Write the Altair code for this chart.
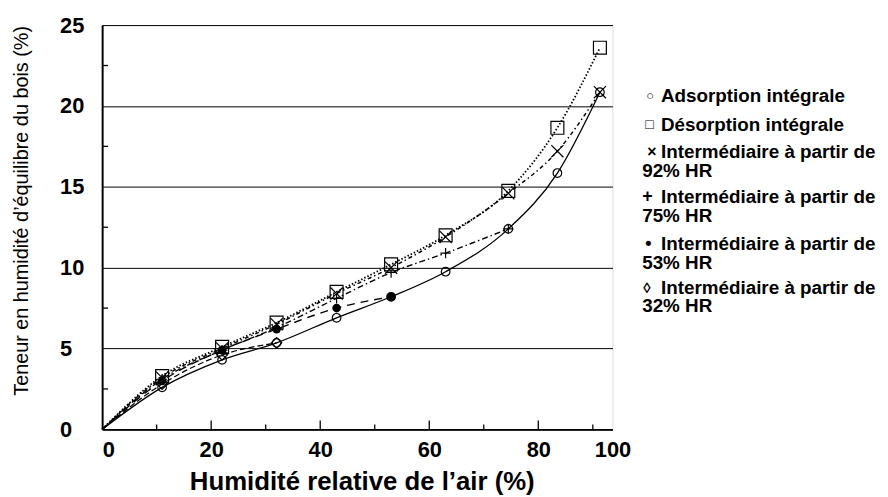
import altair as alt
import pandas as pd

# ---------------- data ----------------
rh = [11, 22, 32, 43, 53, 63, 74.5, 83.5, 91.3]
adsorption = [2.6, 4.3, 5.35, 6.9, 8.2, 9.75, 12.4, 15.85, 20.85]
desorption = [3.3, 5.1, 6.6, 8.5, 10.2, 12.0, 14.75, 18.65, 23.6]
inter92 = [3.2, 5.0, 6.5, 8.4, 10.0, 11.9, 14.6, 17.2, 20.85]
rh75 = [11, 22, 32, 43, 53, 63, 74.5]
inter75 = [3.1, 4.9, 6.3, 8.1, 9.7, 10.9, 12.4]
rh53 = [11, 22, 32, 43, 53]
inter53 = [3.0, 4.9, 6.2, 7.5, 8.2]
rh32 = [11, 22, 32]
inter32 = [2.8, 4.6, 5.35]
origin_x = [0]
origin_y = [0]

x_label_values = [0, 20, 40, 60, 80]
x_end = 93.6  # right edge of the frame, labelled "100"
x_major_ticks = [20, 40, 60, 80]
x_minor_ticks = [10, 30, 50, 70, 90]
y_values = [0, 5, 10, 15, 20, 25]
y_minor_ticks = [2.5, 7.5, 12.5, 17.5, 22.5]

legend_symbols = ["○", "□", "×", "+", "•", "◊"]
legend_texts = [
    ["Adsorption intégrale"],
    ["Désorption intégrale"],
    ["Intermédiaire à partir de", "92% HR"],
    ["Intermédiaire à partir de", "75% HR"],
    ["Intermédiaire à partir de", "53% HR"],
    ["Intermédiaire à partir de", "32% HR"],
]

# ---------------- layout / style ----------------
W, H = 515, 408
FONT = "Liberation Sans"
legend_sym_x = [549, 548, 550, 545, 548, 546]
legend_sym_size = [13, 14, 16, 18, 18, 15]
legend_text_x = 564
legend_second_x = 545
legend_first_line_y = [72, 101, 128, 174, 221, 265]
legend_line_gap = 19

xscale = alt.Scale(domain=[0, x_end], nice=False, zero=True)
yscale = alt.Scale(domain=[0, 25], nice=False, zero=True)

x_axis = alt.Axis(
    values=x_label_values + [x_end],
    labelExpr="datum.value > 90 ? '100' : datum.label",
    labelFlush=False,
    labelAlign={"condition": {"test": "datum.value == 0", "value": "left"}, "value": "center"},
    ticks=False, tickSize=0, grid=False,
    domainColor="black", domainWidth=2,
    labelFont=FONT, labelFontSize=22, labelFontWeight="bold", labelColor="black",
    labelPadding=10,
    title="Humidité relative de l’air (%)",
    titleFont=FONT, titleFontSize=26, titleFontWeight="bold", titleColor="black",
    titleX=262, titleY=61, titleAlign="center", titleBaseline="alphabetic",
)
y_axis = alt.Axis(
    values=y_values,
    grid=True, gridColor="black", gridWidth=1, gridOpacity=1,
    ticks=False, tickSize=0,
    domainColor="black", domainWidth=2,
    labelFont=FONT, labelFontSize=22, labelFontWeight="bold", labelColor="black",
    labelAlign="left", labelBaseline="middle", labelPadding=43,
    title="Teneur en humidité d’équilibre du bois (%)",
    titleFont=FONT, titleFontSize=20, titleFontWeight="normal", titleColor="black",
    titleAngle=270, titleX=-81, titleY=187, titleAlign="center", titleBaseline="middle",
)


def X():
    return alt.X("x:Q", scale=xscale, axis=x_axis)


def Y():
    return alt.Y("y:Q", scale=yscale, axis=y_axis)


def df(xv, yv):
    return pd.DataFrame({"x": xv, "y": yv})


def line(xv, yv, dash, width=1.3):
    kw = dict(color="black", strokeWidth=width, interpolate="monotone")
    if dash:
        kw["strokeDash"] = dash
    return alt.Chart(df(origin_x + xv, origin_y + yv)).mark_line(**kw).encode(x=X(), y=Y())


def points(xv, yv, shape, size, filled=False, sw=1.2):
    return alt.Chart(df(xv, yv)).mark_point(
        shape=shape, size=size, filled=filled, color="black",
        strokeWidth=sw, opacity=1
    ).encode(x=X(), y=Y())


def label(txt, px, py, size):
    return alt.Chart(pd.DataFrame({"t": [txt]})).mark_text(
        align="left", baseline="middle", font=FONT, fontSize=size,
        fontWeight="bold", color="black"
    ).encode(x=alt.value(px), y=alt.value(py), text="t:N")


layers = []
# curves
layers.append(line(rh, adsorption, None, 1.3))
layers.append(line(rh, desorption, [1.5, 2], 1.8))
layers.append(line(rh, inter92, [4, 3, 1.5, 3], 1.5))
layers.append(line(rh75, inter75, [6, 3, 1.5, 3], 1.4))
layers.append(line(rh53, inter53, [8, 6], 1.4))
layers.append(line(rh32, inter32, [6, 3], 1.2))

# inner ticks
layers.append(alt.Chart(pd.DataFrame({"x": x_major_ticks})).mark_rule(color="black", strokeWidth=1.3)
              .encode(x=X(), y=alt.value(H), y2=alt.value(H - 9)))
layers.append(alt.Chart(pd.DataFrame({"x": x_minor_ticks})).mark_rule(color="black", strokeWidth=1.3)
              .encode(x=X(), y=alt.value(H), y2=alt.value(H - 5)))
layers.append(alt.Chart(pd.DataFrame({"y": y_minor_ticks})).mark_rule(color="black", strokeWidth=1.3)
              .encode(y=Y(), x=alt.value(0), x2=alt.value(6)))

# markers
layers.append(points(rh, adsorption, "circle", 75))
layers.append(points(rh, desorption, "square", 170))
layers.append(points(rh, inter92, "M-1,-1L1,1M-1,1L1,-1", 150))
layers.append(points(rh75, inter75, "M-1,0L1,0M0,-1L0,1", 110))
layers.append(points(rh53, inter53, "circle", 75, filled=True))
layers.append(points(rh32, inter32, "diamond", 110))

# legend (layout only)
for k, (sym, lines) in enumerate(zip(legend_symbols, legend_texts)):
    y0 = legend_first_line_y[k]
    layers.append(label(sym, legend_sym_x[k], y0, legend_sym_size[k]))
    layers.append(label(lines[0], legend_text_x, y0, 19))
    for i, txt in enumerate(lines[1:], start=1):
        layers.append(label(txt, legend_second_x, y0 + i * legend_line_gap, 19))

chart = alt.layer(*layers).properties(
    width=W, height=H,
    padding={"left": 95, "top": 15, "right": 270, "bottom": 66},
    autosize=alt.AutoSizeParams(type="none"),
).configure_view(stroke="black", strokeWidth=1.3).configure(background="white")

chart.save("out.html", embed_options={"renderer": "svg", "actions": False})
